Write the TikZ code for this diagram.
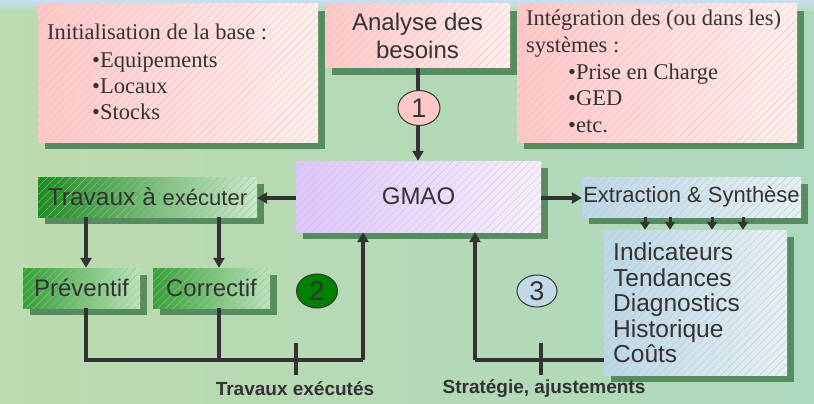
\documentclass[tikz,border=0pt]{standalone}
\usepackage{fontspec}
\setmainfont{Liberation Sans}
\newfontfamily\serifft{Liberation Serif}
\usetikzlibrary{shapes.geometric,arrows.meta,shadows,patterns.meta,calc}
\definecolor{txt}{HTML}{333333}
\definecolor{shadowc}{HTML}{578B60}
\definecolor{bgA}{HTML}{BCDBAE}
\definecolor{bgB}{HTML}{AED8BE}
\definecolor{bgTop}{HTML}{C6E0F6}
\definecolor{pinkL}{HTML}{FFC8C8}
\definecolor{pinkR}{HTML}{FFF0F0}
\definecolor{lavL}{HTML}{DEC6FA}
\definecolor{lavR}{HTML}{F6F0FA}
\definecolor{grnL}{HTML}{1F8A22}
\definecolor{grnR}{HTML}{CDE8CC}
\definecolor{grn2L}{HTML}{35A038}
\definecolor{grn2R}{HTML}{BFE2BE}
\definecolor{bluL}{HTML}{BDD7E6}
\definecolor{bluR}{HTML}{E8F0F2}
\definecolor{hPink}{HTML}{EDBABA}
\definecolor{hLav}{HTML}{D2C0E8}
\definecolor{hGrn}{HTML}{8CC88C}
\definecolor{hBlu}{HTML}{B2CCDA}
\definecolor{e1c}{HTML}{FFC8C8}
\definecolor{e2c}{HTML}{008000}
\definecolor{e3c}{HTML}{C2D9E8}
\begin{document}
\begin{tikzpicture}[x=1pt,y=-1pt,
  box/.style={rectangle, inner sep=0pt, text=txt,
    drop shadow={shadow xshift=7pt, shadow yshift=-7pt, fill=shadowc, opacity=1},
    postaction={pattern={Lines[angle=45,distance=5.5pt,line width=0.4pt]}, pattern color=#1}},
  pinkbox/.style={box=hPink, left color=pinkL, right color=pinkR},
  lavbox/.style={box=hLav, left color=lavL, right color=lavR},
  grnbox/.style={box=hGrn, left color=grnL, right color=grnR},
  grn2box/.style={box=hGrn, left color=grn2L, right color=grn2R},
  blubox/.style={box=hBlu, left color=bluL, right color=bluR},
  sertext/.style={anchor=base west, inner sep=0pt, text=txt, font=\serifft\fontsize{22.5}{26}\selectfont},
  sanstext/.style={inner sep=0pt, text=txt, font=\fontsize{24}{28}\selectfont},
  lbl/.style={inner sep=0pt, text=txt, font=\bfseries\fontsize{19}{22}\selectfont},
  conn/.style={draw=txt, line width=3.5pt},
  arr/.style={conn, -{Triangle[width=11pt,length=10pt]}},
  sarr/.style={draw=txt, line width=3pt, -{Triangle[width=10pt,length=8pt]}},
  num/.style={ellipse, draw=txt, line width=1pt, inner sep=0pt, text=txt, font=\fontsize{27}{30}\selectfont}
]
\useasboundingbox (0,0) rectangle (814,404);
% background
\fill[left color=bgA, right color=bgB] (0,0) rectangle (814,404);
\shade[top color=bgTop, bottom color=bgA!60!bgB] (0,0) rectangle (814,12);

% boxes
\node[pinkbox, minimum width=280pt, minimum height=138pt] (init) at (178,73) {};
\node[pinkbox, minimum width=185pt, minimum height=64pt] (ana) at (417.5,36) {};
\node[pinkbox, minimum width=280pt, minimum height=138pt] (integ) at (657,73) {};
\node[lavbox, minimum width=245pt, minimum height=71pt] (gmao) at (418.5,196.5) {\fontsize{24}{28}\selectfont GMAO};
\node[grnbox, minimum width=219pt, minimum height=40pt] (trav) at (147.5,197) {\fontsize{24.5}{28}\selectfont Travaux à {\fontsize{22}{28}\selectfont exécuter}};
\node[grn2box, minimum width=117pt, minimum height=40pt] (prev) at (81.5,288) {\fontsize{24}{28}\selectfont Préventif};
\node[grn2box, minimum width=117pt, minimum height=40pt] (corr) at (211.5,288) {\fontsize{24}{28}\selectfont Correctif};
\node[blubox, minimum width=219pt, minimum height=40pt] (extr) at (691.5,197) {\fontsize{22}{26}\selectfont Extraction \& Synthèse};
\node[blubox, minimum width=183pt, minimum height=145pt] (ind) at (695.5,302.5) {};

% texts in boxes
\node[sertext] (i1) at (47,40) {Initialisation de la base :};
\node[sertext] (i2) at (92,67) {•Equipements};
\node[sertext] (i3) at (92,93) {•Locaux};
\node[sertext] (i4) at (92,119) {•Stocks};
\node[sanstext, anchor=base] (a1) at (417.5,30.5) {Analyse des};
\node[sanstext, anchor=base] (a2) at (417.5,58.5) {besoins};
\node[sertext] (g1) at (526,26) {Intégration des (ou dans les)};
\node[sertext] (g2) at (526,53) {systèmes :};
\node[sertext] (g3) at (568,80) {•Prise en Charge};
\node[sertext] (g4) at (568,106) {•GED};
\node[sertext] (g5) at (568,132) {•etc.};
\node[sanstext, anchor=base west, font=\fontsize{24.5}{28}\selectfont] (n1) at (613,260) {Indicateurs};
\node[sanstext, anchor=base west, font=\fontsize{24.5}{28}\selectfont] (n2) at (613,286) {Tendances};
\node[sanstext, anchor=base west, font=\fontsize{24.5}{28}\selectfont] (n3) at (613,311.5) {Diagnostics};
\node[sanstext, anchor=base west, font=\fontsize{24.5}{28}\selectfont] (n4) at (613,337) {Historique};
\node[sanstext, anchor=base west, font=\fontsize{24.5}{28}\selectfont] (n5) at (613,362) {Coûts};

% helper coordinates
\coordinate (xp) at (86,0);
\coordinate (xc) at (219,0);
\coordinate (fb2) at (363,360);
\coordinate (fb3) at (475,360);
\coordinate (t2a) at (296,343);
\coordinate (t2b) at (296,375);
\coordinate (t3a) at (541,343);
\coordinate (t3b) at (541,375);

% connectors
\draw[arr] (ana.south -| 418,0) -- (gmao.north -| 418,0);
\draw[arr] (gmao.west |- 0,198) -- (trav.east |- 0,198);
\draw[arr] (gmao.east |- 0,198) -- (extr.west |- 0,198);
\draw[arr] (trav.south -| xp) -- (prev.north -| xp);
\draw[arr] (trav.south -| xc) -- (corr.north -| xc);
\foreach \xx in {645,670,712,743}{
  \draw[sarr] (extr.south -| \xx,0) -- (ind.north -| \xx,0);
}
\draw[conn] (prev.south -| xp) |- (fb2);
\draw[arr] (fb2) -- (gmao.south -| fb2);
\draw[conn] (corr.south -| xc) -- (xc |- fb2);
\draw[conn] (t2a) -- (t2b);
\draw[conn] (ind.west |- fb3) -- (fb3);
\draw[arr] (fb3) -- (gmao.south -| fb3);
\draw[conn] (t3a) -- (t3b);

% numbered ellipses
\node[num, fill=e1c, minimum width=42pt, minimum height=35pt] (c1) at (419,108) {1};
\node[num, fill=e2c, minimum width=41pt, minimum height=34pt] (c2) at (317,291) {2};
\node[num, fill=e3c, minimum width=40pt, minimum height=32pt] (c3) at (537,291) {3};

% labels
\node[lbl] (l2) at (295,389) {Travaux exécutés};
\node[lbl] (l3) at (544,389) {Stratégie, ajustements};
\end{tikzpicture}
\end{document}
